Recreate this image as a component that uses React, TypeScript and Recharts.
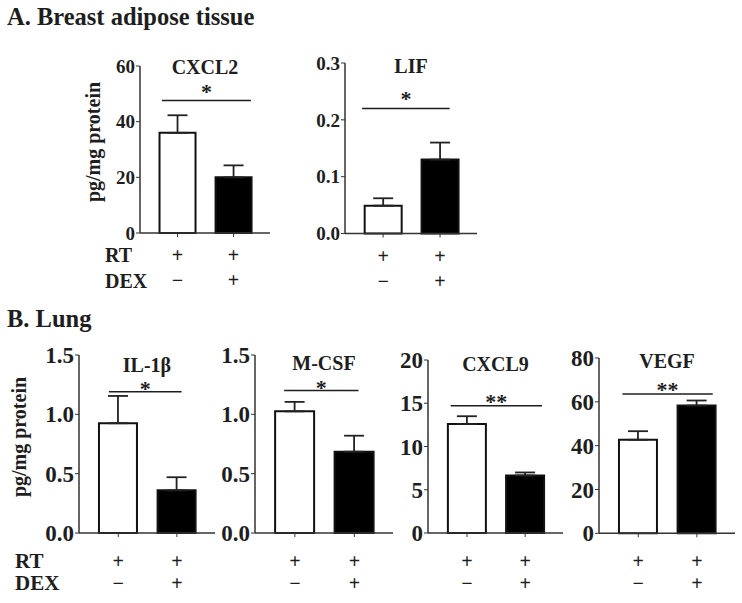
import { BarChart, Bar, XAxis, YAxis, ErrorBar, Cell, ReferenceLine } from "recharts"

// two groups, same order in every panel
const GROUP_X = [1, 2]
const RT_SIGNS = ["+", "+"]
const DEX_SIGNS = ["\u2212", "+"]
const BAR_FILLS = ["#ffffff", "#000000"]

// A. Breast adipose tissue
const CXCL2_MEAN = [36.0, 20.0]
const CXCL2_SEM = [6.3, 4.3]
const CXCL2_TICKS = [0, 20, 40, 60]
const CXCL2_SIG = { mark: "*", y: 47.6, from: 0.72, to: 2.31 }

const LIF_MEAN = [0.049, 0.13]
const LIF_SEM = [0.013, 0.03]
const LIF_TICKS = [0, 0.1, 0.2, 0.3]
const LIF_SIG = { mark: "*", y: 0.22, from: 0.63, to: 2.17 }

// B. Lung
const IL1B_MEAN = [0.925, 0.36]
const IL1B_SEM = [0.23, 0.11]
const IL1B_TICKS = [0, 0.5, 1.0, 1.5]
const IL1B_SIG = { mark: "*", y: 1.19, from: 0.84, to: 2.08 }

const MCSF_MEAN = [1.025, 0.685]
const MCSF_SEM = [0.08, 0.135]
const MCSF_TICKS = [0, 0.5, 1.0, 1.5]
const MCSF_SIG = { mark: "*", y: 1.2, from: 0.82, to: 2.07 }

const CXCL9_MEAN = [12.6, 6.65]
const CXCL9_SEM = [0.9, 0.35]
const CXCL9_TICKS = [0, 5, 10, 15, 20]
const CXCL9_SIG = { mark: "**", y: 14.7, from: 0.72, to: 2.29 }

const VEGF_MEAN = [42.7, 58.3]
const VEGF_SEM = [3.9, 2.3]
const VEGF_TICKS = [0, 20, 40, 60, 80]
const VEGF_SIG = { mark: "**", y: 63.6, from: 0.73, to: 2.27 }

const SERIF = "'Liberation Serif', 'Times New Roman', serif"
const INK = "#1e1e1e"
const AXIS = "#333333"
const X_DOMAIN: [number, number] = [0.33, 2.65]
const YW = 46
const MT = 30
const MR = 8
const XH = 70

function SignTick(props: any) {
  const { x, y, payload, rowDy } = props
  const i = GROUP_X.indexOf(payload.value)
  const base = y - 6
  return (
    <g fontFamily={SERIF} fontWeight={700} fontSize={20} fill={INK} textAnchor="middle">
      <text x={x} y={base + rowDy[0]} dominantBaseline="central">{RT_SIGNS[i]}</text>
      <text x={x} y={base + rowDy[1]} dominantBaseline="central">{DEX_SIGNS[i]}</text>
    </g>
  )
}

type PanelProps = {
  title: string
  mean: number[]
  sem: number[]
  ticks: number[]
  digits: number
  sig: { mark: string; y: number; from: number; to: number }
  left: number
  right: number
  top: number
  bottom: number
  titleY: number
  tickFont: number
  starOffset: number
  rowDy: [number, number]
}

function Panel(p: PanelProps) {
  const plotW = p.right - p.left
  const plotH = p.bottom - p.top
  const width = YW + plotW + MR
  const height = MT + plotH + XH
  const unit = plotW / (X_DOMAIN[1] - X_DOMAIN[0])
  const data = GROUP_X.map((x, i) => ({ x, mean: p.mean[i], err: [0, p.sem[i]] }))
  const boxTop = p.top - MT

  return (
    <div style={{ position: "absolute", left: p.left - YW, top: boxTop, width, height }}>
      <BarChart width={width} height={height} data={data} margin={{ top: MT, right: MR, left: 0, bottom: 0 }}>
        <XAxis
          type="number"
          dataKey="x"
          domain={X_DOMAIN}
          ticks={GROUP_X}
          interval={0}
          allowDataOverflow
          height={XH}
          tickSize={4}
          axisLine={{ stroke: AXIS, strokeWidth: 1.5 }}
          tickLine={{ stroke: AXIS }}
          tick={<SignTick rowDy={p.rowDy} />}
        />
        <YAxis
          type="number"
          domain={[0, p.ticks[p.ticks.length - 1]]}
          ticks={p.ticks}
          interval={0}
          width={YW}
          tickSize={4}
          tickMargin={1}
          axisLine={{ stroke: AXIS, strokeWidth: 1.5 }}
          tickLine={{ stroke: AXIS }}
          tickFormatter={(v: number) => v.toFixed(p.digits)}
          tick={{ fill: INK, fontSize: p.tickFont, fontWeight: 700, fontFamily: SERIF }}
        />
        <Bar dataKey="mean" barSize={Math.round(unit * 0.65)} stroke="#111" strokeWidth={2} isAnimationActive={false}>
          {data.map((_, i) => (
            <Cell key={i} fill={BAR_FILLS[i]} />
          ))}
          <ErrorBar dataKey="err" direction="y" width={10} stroke="#222" strokeWidth={1.8} isAnimationActive={false} />
        </Bar>
        <ReferenceLine
          segment={[{ x: p.sig.from, y: p.sig.y }, { x: p.sig.to, y: p.sig.y }]}
          stroke={INK}
          strokeWidth={1.5}
          label={{ value: p.sig.mark, position: "top", offset: p.starOffset, fill: INK, fontSize: 22, fontWeight: 700, fontFamily: SERIF }}
        />
      </BarChart>
      <div
        style={{
          position: "absolute",
          left: YW,
          width: plotW,
          top: p.titleY - boxTop - 11,
          textAlign: "center",
          fontFamily: SERIF,
          fontWeight: 700,
          fontSize: 20,
          lineHeight: "20px",
          color: INK,
        }}
      >
        {p.title}
      </div>
    </div>
  )
}

const textStyle = (left: number, top: number, size: number) => ({
  position: "absolute" as const,
  left,
  top,
  fontFamily: SERIF,
  fontWeight: 700,
  fontSize: size,
  lineHeight: `${size}px`,
  color: INK,
  whiteSpace: "nowrap" as const,
})

function YLabel({ cx, cy }: { cx: number; cy: number }) {
  return (
    <div
      style={{
        ...textStyle(cx - 80, cy - 10, 20),
        width: 160,
        textAlign: "center",
        transform: "rotate(-90deg)",
      }}
    >
      pg/mg protein
    </div>
  )
}

export default function App() {
  return (
    <div style={{ position: "absolute", left: 0, top: 0, width: 742, height: 603, background: "#fff", overflow: "hidden" }}>
      <div style={textStyle(7, 5, 24.5)}>A. Breast adipose tissue</div>
      <div style={textStyle(7, 307, 24.5)}>B. Lung</div>

      <YLabel cx={93} cy={142} />
      <YLabel cx={19} cy={437} />

      <div style={textStyle(105, 245, 20)}>RT</div>
      <div style={textStyle(105, 271, 20)}>DEX</div>
      <div style={textStyle(15, 551, 21)}>RT</div>
      <div style={textStyle(15, 573, 21)}>DEX</div>

      <Panel title="CXCL2" mean={CXCL2_MEAN} sem={CXCL2_SEM} ticks={CXCL2_TICKS} digits={0} sig={CXCL2_SIG}
        left={140} right={270} top={66} bottom={233} titleY={68} tickFont={19} starOffset={2} rowDy={[22, 47]} />
      <Panel title="LIF" mean={LIF_MEAN} sem={LIF_SEM} ticks={LIF_TICKS} digits={1} sig={LIF_SIG}
        left={345} right={477} top={62.5} bottom={233} titleY={67} tickFont={19} starOffset={2} rowDy={[22, 47]} />

      <Panel title="IL-1β" mean={IL1B_MEAN} sem={IL1B_SEM} ticks={IL1B_TICKS} digits={1} sig={IL1B_SIG}
        left={79} right={215} top={355} bottom={533} titleY={366} tickFont={23} starOffset={-4} rowDy={[28, 50]} />
      <Panel title="M-CSF" mean={MCSF_MEAN} sem={MCSF_SEM} ticks={MCSF_TICKS} digits={1} sig={MCSF_SIG}
        left={255} right={393} top={355} bottom={533} titleY={364} tickFont={23} starOffset={-4} rowDy={[28, 50]} />
      <Panel title="CXCL9" mean={CXCL9_MEAN} sem={CXCL9_SEM} ticks={CXCL9_TICKS} digits={0} sig={CXCL9_SIG}
        left={428} right={563} top={360} bottom={533} titleY={365} tickFont={23} starOffset={-3} rowDy={[28, 50]} />
      <Panel title="VEGF" mean={VEGF_MEAN} sem={VEGF_SEM} ticks={VEGF_TICKS} digits={0} sig={VEGF_SIG}
        left={599} right={735} top={357.7} bottom={533} titleY={362} tickFont={23} starOffset={-3} rowDy={[28, 50]} />
    </div>
  )
}
